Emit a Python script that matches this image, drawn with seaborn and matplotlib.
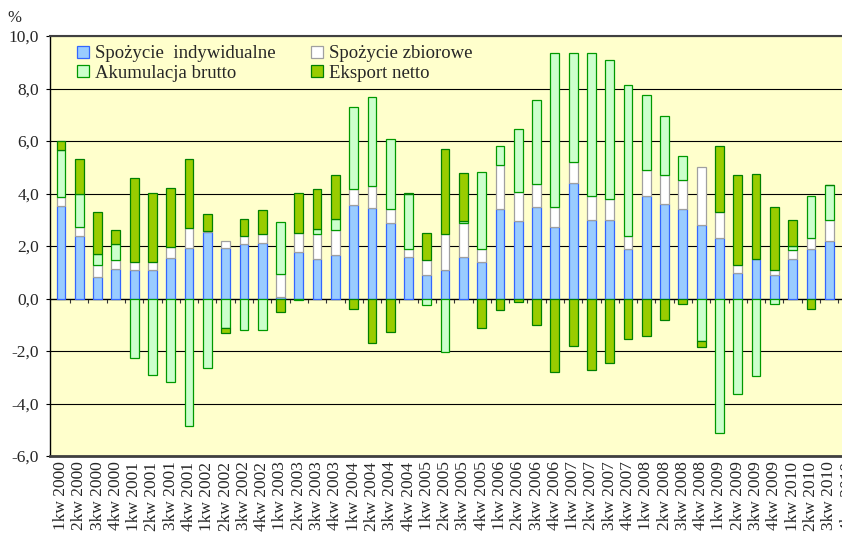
import numpy as np
import matplotlib.pyplot as plt
import matplotlib.ticker as mticker
import seaborn as sns

# quarters on the axis (the last one has no data yet)
quarters = [f"{q}kw {y}" for y in range(2000, 2011) for q in range(1, 5)]

spozycie_indywidualne = [3.51, 2.37, 0.82, 1.14, 1.09, 1.09, 1.56, 1.91, 2.54, 1.94, 2.06,
                         2.13, 0.05, 1.78, 1.51, 1.64, 3.55, 3.46, 2.88, 1.58, 0.88, 1.10,
                         1.59, 1.38, 3.41, 2.97, 3.47, 2.71, 4.41, 2.99, 2.99, 1.88, 3.91,
                         3.62, 3.40, 2.79, 2.29, 0.99, 1.50, 0.88, 1.50, 1.88, 2.19]
spozycie_zbiorowe = [0.37, 0.34, 0.45, 0.31, 0.32, 0.29, 0.40, 0.77, 0.05, 0.27, 0.34,
                     0.33, 0.87, 0.72, 0.94, 0.98, 0.62, 0.82, 0.55, 0.32, 0.59, 1.36,
                     1.28, 0.51, 1.67, 1.10, 0.91, 0.77, 0.81, 0.92, 0.82, 0.50, 1.00,
                     1.10, 1.12, 2.23, 1.01, 0.29, 0.02, 0.21, 0.36, 0.41, 0.79]
akumulacja_brutto = [1.76, 1.28, 0.41, 0.61, -2.26, -2.90, -3.19, -4.87, -2.64, -1.13, -1.21,
                     -1.21, 1.98, -0.04, 0.19, 0.42, 3.14, 3.39, 2.64, 2.08, -0.23, -2.03,
                     0.08, 2.94, 0.72, 2.40, 3.17, 5.88, 4.15, 5.45, 5.26, 5.76, 2.83,
                     2.23, 0.91, -1.63, -5.13, -3.64, -2.94, -0.22, 0.15, 1.63, 1.33]
eksport_netto = [0.36, 1.32, 1.60, 0.56, 3.18, 2.65, 2.27, 2.63, 0.62, -0.20, 0.64,
                 0.90, -0.50, 1.53, 1.55, 1.65, -0.40, -1.71, -1.27, 0.05, 1.03, 3.24,
                 1.83, -1.12, -0.45, -0.13, -0.99, -2.78, -1.82, -2.73, -2.44, -1.53, -1.42,
                 -0.82, -0.22, -0.20, 2.53, 3.44, 3.22, 2.41, 0.99, -0.41, 0.0]

series = [
    ("Spożycie  indywidualne", spozycie_indywidualne, "#99CCFF", "#3366FF"),
    ("Spożycie zbiorowe", spozycie_zbiorowe, "#FFFFFF", "#A0A0A0"),
    ("Akumulacja brutto", akumulacja_brutto, "#CCFFCC", "#009900"),
    ("Eksport netto", eksport_netto, "#99CC00", "#008000"),
]


def main():
    sns.set_style("white")
    plt.rcParams['font.family'] = ['Liberation Serif', 'DejaVu Serif']

    fig = plt.figure(figsize=(8.42, 5.34), dpi=100)
    ax = fig.add_axes([0.0594, 0.146, 0.958, 0.7865])
    ax.set_facecolor('#FFFFCC')

    n = len(spozycie_indywidualne)
    pos = np.zeros(n)
    neg = np.zeros(n)
    # stack positives upward and negatives downward, in series order
    for name, vals, face, edge in series:
        vals = np.array(vals)
        bottom = np.where(vals >= 0, pos, neg)
        sns.barplot(x=quarters[:n], y=vals, order=quarters, bottom=bottom,
                    color=face, saturation=1, edgecolor=edge, linewidth=0.9,
                    width=0.48, errorbar=None, label=name, ax=ax)
        pos += np.clip(vals, 0, None)
        neg += np.clip(vals, None, 0)

    ax.set_xlim(-0.6, 43.5)
    ax.set_ylim(-6, 10)
    ax.set_yticks(np.arange(-6, 10.1, 2))
    ax.yaxis.set_major_formatter(mticker.FuncFormatter(lambda v, p: f"{v:.1f}".replace('.', ',')))
    ax.set_xlabel('')
    ax.set_ylabel('')
    ax.set_axisbelow(True)
    ax.grid(axis='y', color='black', linewidth=0.8)

    ax.set_xticks(range(len(quarters)))
    ax.set_xticklabels(quarters, rotation=90, fontsize=12.5)
    ax.tick_params(axis='x', length=0, pad=4)
    ax.tick_params(axis='y', length=3, direction='out', color='black', labelsize=12.5, pad=5, left=True)

    for side in ['top', 'bottom']:
        ax.spines[side].set_color('#404040')
    ax.spines['top'].set_linewidth(1.5)
    ax.spines['bottom'].set_linewidth(2)
    ax.spines['left'].set_color('black')
    ax.spines['left'].set_linewidth(1)
    ax.spines['right'].set_visible(False)

    # zero line with category boundary ticks
    ylo, yhi = ax.get_ylim()
    zero_ax = ax.secondary_xaxis((0 - ylo) / (yhi - ylo))
    zero_ax.set_xticks(np.arange(len(quarters)) + 0.5)
    zero_ax.tick_params(direction='out', length=3, color='#333333', labelbottom=False, labeltop=False)
    for sp in zero_ax.spines.values():
        sp.set_color('#333333')
        sp.set_linewidth(1)

    h, l = ax.get_legend_handles_labels()
    idx = [0, 2, 1, 3]
    ax.legend([h[i] for i in idx], [l[i] for i in idx], ncol=2, loc='upper left',
              bbox_to_anchor=(0.022, 1.0), frameon=False, fontsize=13.5,
              handlelength=0.65, handleheight=0.65, handletextpad=0.3,
              columnspacing=1.9, borderaxespad=0.2, borderpad=0.3, labelspacing=0.12)

    fig.text(14 / 842, 1 - 18 / 534, '%', fontsize=12, ha='center', va='center')

    fig.savefig('out.png', dpi=100)


if __name__ == "__main__":
    main()
